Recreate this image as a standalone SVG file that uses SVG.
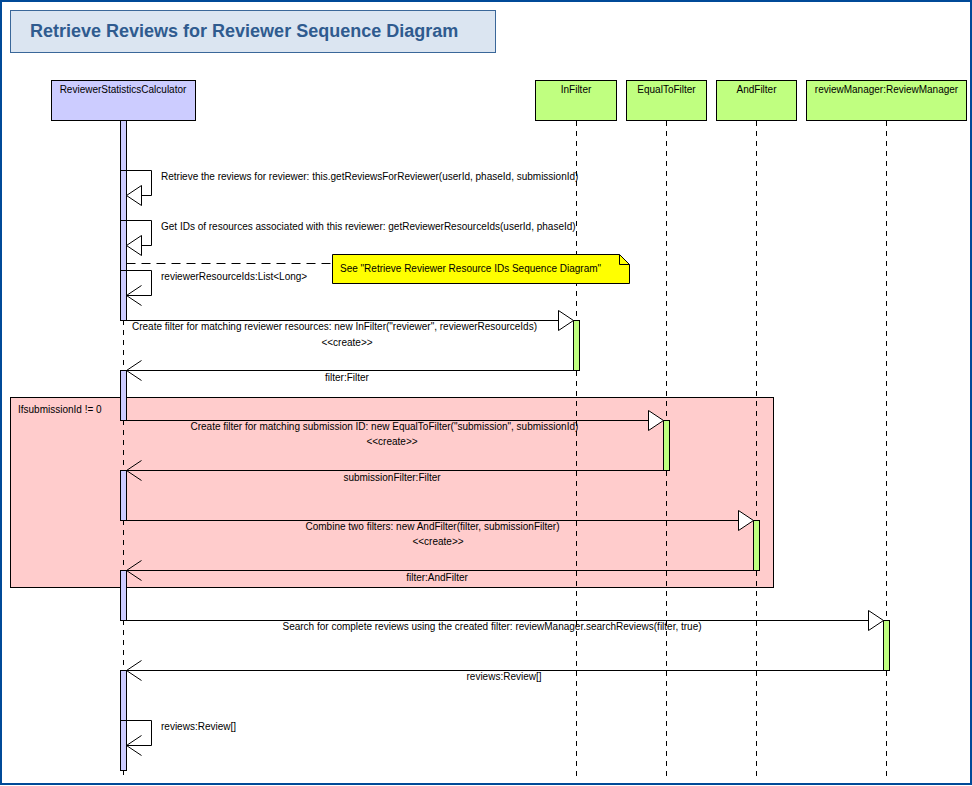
<svg xmlns="http://www.w3.org/2000/svg" width="972" height="786" viewBox="0 0 972 786">
<style>
text{font-family:"Liberation Sans",Arial,sans-serif;font-size:10px;fill:#000}
.title{font-size:18px;font-weight:bold;fill:#2f5b8f}
.mid{text-anchor:middle}
.life{stroke:#000;stroke-width:1;stroke-dasharray:5,5;fill:none}
.bar{fill:#ccccff;stroke:#000;stroke-width:1}
.gbar{fill:#c0ff80;stroke:#000;stroke-width:1}
.msg{stroke:#000;stroke-width:1;fill:none}
.tri{fill:#fff;stroke:#000;stroke-width:1}
</style>
<rect x="0" y="0" width="972" height="786" fill="#fff"/>
<rect x="1" y="1" width="970" height="783" fill="none" stroke="#004a98" stroke-width="2"/>
<g id="title">
<rect x="10.5" y="10.5" width="485" height="42" fill="#dbe5f1" stroke="#3a6799" stroke-width="1"/>
<text class="title" x="30" y="37">Retrieve Reviews for Reviewer Sequence Diagram</text>
</g>
<g id="fragment">
<rect x="10.5" y="397.5" width="763" height="190" fill="#ffcccc" stroke="#000" stroke-width="1"/>
<text x="18" y="413">IfsubmissionId != 0</text>
</g>
<g id="lifelines">
<line class="life" x1="123.5" y1="120" x2="123.5" y2="776"/>
<line class="life" x1="576.5" y1="121" x2="576.5" y2="776"/>
<line class="life" x1="666.5" y1="121" x2="666.5" y2="776"/>
<line class="life" x1="756.5" y1="121" x2="756.5" y2="776"/>
<line class="life" x1="886.5" y1="121" x2="886.5" y2="776"/>
</g>
<g id="ReviewerStatisticsCalculator">
<rect x="51.5" y="80.5" width="144" height="40" fill="#ccccff" stroke="#000"/>
<text class="mid" x="123" y="93">ReviewerStatisticsCalculator</text>
<rect class="bar" x="120.5" y="120.5" width="6" height="200"/>
<rect class="bar" x="120.5" y="170.5" width="6" height="150"/>
<rect class="bar" x="120.5" y="220.5" width="6" height="100"/>
<rect class="bar" x="120.5" y="270.5" width="6" height="50"/>
<rect class="bar" x="120.5" y="370.5" width="6" height="50"/>
<rect class="bar" x="120.5" y="470.5" width="6" height="50"/>
<rect class="bar" x="120.5" y="570.5" width="6" height="50"/>
<rect class="bar" x="120.5" y="670.5" width="6" height="100"/>
<rect class="bar" x="120.5" y="720.5" width="6" height="50"/>
</g>
<g id="InFilter">
<rect x="535.5" y="80.5" width="81" height="40" fill="#c0ff80" stroke="#000"/>
<text class="mid" x="576" y="93">InFilter</text>
<rect class="gbar" x="573.5" y="320.5" width="6" height="50"/>
</g>
<g id="EqualToFilter">
<rect x="626.5" y="80.5" width="80" height="40" fill="#c0ff80" stroke="#000"/>
<text class="mid" x="666.5" y="93">EqualToFilter</text>
<rect class="gbar" x="663.5" y="420.5" width="6" height="50"/>
</g>
<g id="AndFilter">
<rect x="716.5" y="80.5" width="80" height="40" fill="#c0ff80" stroke="#000"/>
<text class="mid" x="756.5" y="93">AndFilter</text>
<rect class="gbar" x="753.5" y="520.5" width="6" height="50"/>
</g>
<g id="reviewManager">
<rect x="806.5" y="80.5" width="160" height="40" fill="#c0ff80" stroke="#000"/>
<text class="mid" x="886.5" y="93">reviewManager:ReviewManager</text>
<rect class="gbar" x="883.5" y="620.5" width="6" height="50"/>
</g>
<g id="note">
<path d="M332.5,254.5 H619.5 L629.5,264.5 V283.5 H332.5 Z" fill="#ffff00" stroke="#000"/>
<path d="M619.5,254.5 V264.5 H629.5" fill="none" stroke="#000"/>
<text x="340" y="272">See "Retrieve Reviewer Resource IDs Sequence Diagram"</text>
</g>
<g id="connectors">
<path class="msg" d="M126.5,170.5 H151.5 V195.5 H141.5"/>
<polygon class="tri" points="126.5,195.5 141.5,185.5 141.5,205.5"/>
<path class="msg" d="M126.5,220.5 H151.5 V245.5 H141.5"/>
<polygon class="tri" points="126.5,245.5 141.5,235.5 141.5,255.5"/>
<path class="msg" d="M126.5,270.5 H151.5 V295.5 H126.5 M141.5,285.5 L126.5,295.5 L141.5,305.5"/>
<line class="msg" x1="126.5" y1="263.5" x2="332" y2="263.5" stroke-dasharray="9,6"/>
<path class="msg" d="M126.5,320.5 H558.5"/>
<polygon class="tri" points="573.5,320.5 558.5,310.5 558.5,330.5"/>
<path class="msg" d="M573.5,370.5 H126.5 M141.5,360.5 L126.5,370.5 L141.5,380.5"/>
<path class="msg" d="M126.5,420.5 H648.5"/>
<polygon class="tri" points="663.5,420.5 648.5,410.5 648.5,430.5"/>
<path class="msg" d="M663.5,470.5 H126.5 M141.5,460.5 L126.5,470.5 L141.5,480.5"/>
<path class="msg" d="M126.5,520.5 H738.5"/>
<polygon class="tri" points="753.5,520.5 738.5,510.5 738.5,530.5"/>
<path class="msg" d="M753.5,570.5 H126.5 M141.5,560.5 L126.5,570.5 L141.5,580.5"/>
<path class="msg" d="M126.5,620.5 H868.5"/>
<polygon class="tri" points="883.5,620.5 868.5,610.5 868.5,630.5"/>
<path class="msg" d="M883.5,670.5 H126.5 M141.5,660.5 L126.5,670.5 L141.5,680.5"/>
<path class="msg" d="M126.5,720.5 H151.5 V745.5 H126.5 M141.5,735.5 L126.5,745.5 L141.5,755.5"/>
</g>
<g id="labels">
<text x="161" y="180">Retrieve the reviews for reviewer: this.getReviewsForReviewer(userId, phaseId, submissionId)</text>
<text x="161" y="230">Get IDs of resources associated with this reviewer: getReviewerResourceIds(userId, phaseId)</text>
<text x="161" y="280">reviewerResourceIds:List&lt;Long&gt;</text>
<text x="132" y="330">Create filter for matching reviewer resources: new InFilter("reviewer", reviewerResourceIds)</text>
<text class="mid" x="347" y="346">&lt;&lt;create&gt;&gt;</text>
<text class="mid" x="347" y="381">filter:Filter</text>
<text x="190.5" y="430">Create filter for matching submission ID: new EqualToFilter("submission", submissionId)</text>
<text class="mid" x="392" y="445">&lt;&lt;create&gt;&gt;</text>
<text class="mid" x="392" y="481">submissionFilter:Filter</text>
<text x="305.5" y="530">Combine two filters: new AndFilter(filter, submissionFilter)</text>
<text class="mid" x="438" y="545">&lt;&lt;create&gt;&gt;</text>
<text class="mid" x="437" y="581">filter:AndFilter</text>
<text x="282.5" y="630">Search for complete reviews using the created filter: reviewManager.searchReviews(filter, true)</text>
<text class="mid" x="504" y="680">reviews:Review[]</text>
<text x="161" y="730">reviews:Review[]</text>
</g>
</svg>
